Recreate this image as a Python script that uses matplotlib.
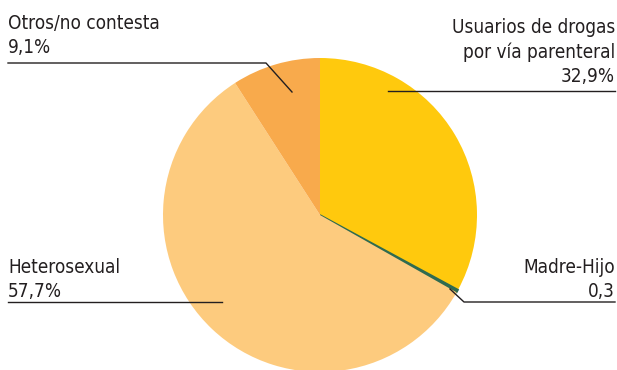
import matplotlib.pyplot as plt

labels = ["Usuarios de drogas\npor vía parenteral", "Madre-Hijo", "Heterosexual", "Otros/no contesta"]
values = [32.9, 0.3, 57.7, 9.1]
value_text = ["32,9%", "0,3", "57,7%", "9,1%"]
colors = ["#FFC90D", "#2F6B50", "#FDCB7E", "#F8AA4C"]

plt.rcParams["font.family"] = ["DejaVu Sans"]
plt.rcParams["font.stretch"] = "condensed"

W, H = 617, 370
fig = plt.figure(figsize=(W / 100, H / 100), dpi=100)
ax = fig.add_axes([0, 0, 1, 1])

wedges, _ = ax.pie(values, colors=colors, startangle=90, counterclock=False,
                   center=(320, H - 215), radius=157,
                   wedgeprops=dict(linewidth=0))
# thin green slice gets an outline so it shows like the original
wedges[1].set_edgecolor(colors[1])
wedges[1].set_linewidth(1.2)

ax.set_xlim(0, W)
ax.set_ylim(0, H)
ax.set_aspect("equal")
ax.axis("off")

fs = 13.6
tc = "#231F20"
lc = "#231F20"

def y(p):
    return H - p

# Otros/no contesta
ax.text(8, y(53), labels[3] + "\n" + value_text[3], fontsize=fs, color=tc,
        ha="left", va="baseline", linespacing=1.33)
ax.plot([8, 266, 292], [y(63), y(63), y(92)], color=lc, lw=1.0)

# Usuarios
ax.text(615, y(82), labels[0] + "\n" + value_text[0], fontsize=fs, color=tc,
        ha="right", va="baseline", linespacing=1.33, multialignment="right")
ax.plot([388, 615], [y(91), y(91)], color=lc, lw=1.0)

# Madre-Hijo
ax.text(615, y(297), labels[1] + "\n" + value_text[1], fontsize=fs, color=tc,
        ha="right", va="baseline", linespacing=1.33, multialignment="right")
ax.plot([450, 464, 615], [y(289), y(302), y(302)], color=lc, lw=1.0)

# Heterosexual
ax.text(8, y(297), labels[2] + "\n" + value_text[2], fontsize=fs, color=tc,
        ha="left", va="baseline", linespacing=1.33)
ax.plot([8, 222], [y(302), y(302)], color=lc, lw=1.0)

fig.savefig("out.png", dpi=100)
